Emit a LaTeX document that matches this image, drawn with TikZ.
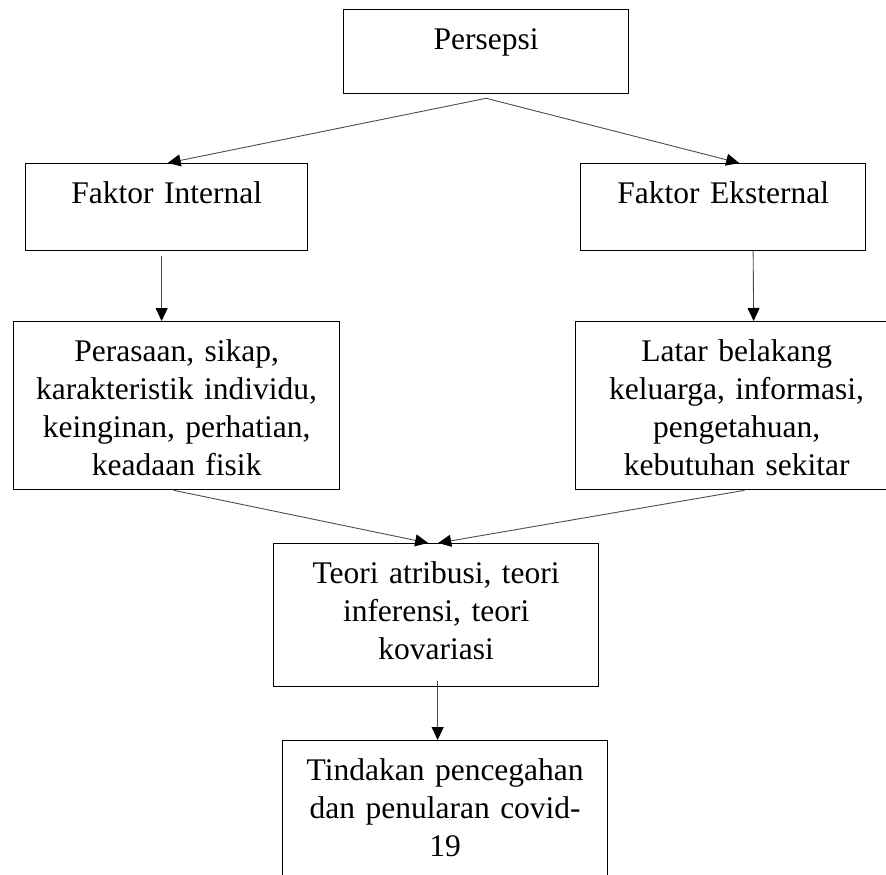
\documentclass[tikz,border=0pt]{standalone}
\usepackage{fontspec}
\setmainfont{Liberation Serif}
\usetikzlibrary{arrows.meta}

\tikzset{
    kotak/.style={draw, line width=1.3pt, rectangle, anchor=north west,
        inner xsep=0pt, inner ysep=0pt, align=center, text height=40pt,
        font=\fontsize{31.5}{38}\selectfont},
    panah/.style={-{Triangle[length=13pt,width=12pt,color=black]},
        line width=0.9pt, draw=black!70}
}

\begin{document}
\begin{tikzpicture}[x=1pt,y=-1pt]

    \clip (0,0) rectangle (886,875);

    \node[kotak, text width=285pt, text depth=44pt] (persepsi) at (343,9) {Persepsi};

    \node[kotak, text width=282pt, text depth=47pt] (internal) at (25,163) {Faktor Internal};
    \node[kotak, text width=285pt, text depth=47pt] (eksternal) at (580,163) {Faktor Eksternal};

    \node[kotak, text width=326pt, text depth=128pt] (detilint) at (13,321)
        {Perasaan, sikap,\\ karakteristik individu,\\ keinginan, perhatian,\\ keadaan fisik};
    \node[kotak, text width=322pt, text depth=128pt] (detilext) at (575,321)
        {Latar belakang\\ keluarga, informasi,\\ pengetahuan,\\ kebutuhan sekitar};

    \node[kotak, text width=325pt, text depth=103pt] (teori) at (273,543)
        {Teori atribusi, teori\\ inferensi, teori\\ kovariasi};

    \node[kotak, text width=325pt, text depth=160pt] (tindakan) at (282,740)
        {Tindakan pencegahan\\ dan penularan covid-\\ 19};

    \draw[panah] ([yshift=-4pt]persepsi.south) -- ([xshift=1pt]internal.north);
    \draw[panah] ([yshift=-4pt]persepsi.south) -- ([xshift=16pt]eksternal.north);

    \draw[panah] ([xshift=-5pt,yshift=-5pt]internal.south) -- ([xshift=-15pt]detilint.north);
    \draw[panah] ([xshift=30pt]eksternal.south) -- ([xshift=17pt]detilext.north);

    \draw[panah] ([xshift=-3pt]detilint.south) -- ([xshift=-8pt]teori.north);
    \draw[panah] ([xshift=8pt]detilext.south) -- ([xshift=2pt]teori.north);

    \draw[panah] ([xshift=1.5pt,yshift=6pt]teori.south) -- ([xshift=-7.5pt]tindakan.north);

\end{tikzpicture}
\end{document}
